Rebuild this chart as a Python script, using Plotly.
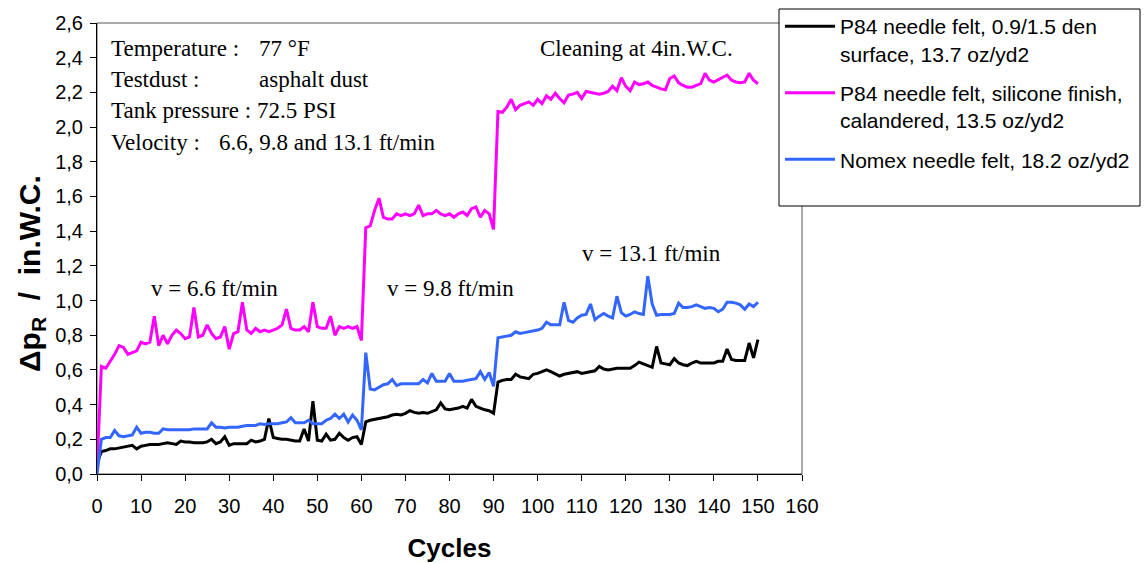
import plotly.graph_objects as go

# ---------------- data ----------------
cycles = list(range(151))

p84_den = [
    0.06, 0.13, 0.135, 0.145, 0.145, 0.15, 0.155, 0.16, 0.165, 0.145,
    0.16, 0.165, 0.17, 0.17, 0.17, 0.175, 0.18, 0.175, 0.17, 0.19,
    0.185, 0.185, 0.18, 0.18, 0.18, 0.185, 0.2, 0.175, 0.185, 0.215,
    0.165, 0.175, 0.175, 0.175, 0.175, 0.195, 0.185, 0.19, 0.2, 0.32,
    0.21, 0.205, 0.2, 0.2, 0.195, 0.19, 0.19, 0.26, 0.19, 0.42,
    0.195, 0.19, 0.23, 0.195, 0.2, 0.235, 0.21, 0.195, 0.21, 0.215,
    0.17, 0.30, 0.31, 0.315, 0.32, 0.325, 0.33, 0.34, 0.345, 0.34,
    0.35, 0.365, 0.355, 0.35, 0.355, 0.35, 0.36, 0.37, 0.41, 0.375,
    0.37, 0.375, 0.38, 0.39, 0.38, 0.43, 0.39, 0.38, 0.37, 0.365,
    0.35, 0.53, 0.54, 0.545, 0.545, 0.575, 0.56, 0.555, 0.55, 0.575,
    0.58, 0.59, 0.6, 0.59, 0.575, 0.565, 0.575, 0.58, 0.585, 0.59,
    0.58, 0.585, 0.59, 0.595, 0.62, 0.605, 0.6, 0.605, 0.61, 0.61,
    0.61, 0.61, 0.625, 0.645, 0.635, 0.625, 0.615, 0.735, 0.64, 0.635,
    0.63, 0.665, 0.64, 0.63, 0.625, 0.64, 0.65, 0.64, 0.64, 0.64,
    0.64, 0.65, 0.65, 0.72, 0.66, 0.655, 0.655, 0.655, 0.755, 0.67,
    0.775,
]

p84_sil = [
    0.03, 0.62, 0.61, 0.65, 0.69, 0.74, 0.73, 0.69, 0.70, 0.71,
    0.76, 0.75, 0.76, 0.91, 0.74, 0.80, 0.75, 0.80, 0.83, 0.81,
    0.78, 0.79, 0.96, 0.79, 0.80, 0.86, 0.81, 0.78, 0.79, 0.85,
    0.72, 0.81, 0.82, 0.99, 0.83, 0.81, 0.84, 0.82, 0.83, 0.82,
    0.83, 0.84, 0.86, 0.95, 0.84, 0.83, 0.83, 0.85, 0.82, 0.99,
    0.85, 0.84, 0.84, 0.91, 0.80, 0.85, 0.84, 0.85, 0.84, 0.85,
    0.77, 1.42, 1.43, 1.52, 1.59, 1.48, 1.47, 1.47, 1.50, 1.49,
    1.50, 1.49, 1.50, 1.55, 1.49, 1.50, 1.50, 1.52, 1.50, 1.49,
    1.50, 1.48, 1.50, 1.51, 1.49, 1.53, 1.54, 1.48, 1.52, 1.50,
    1.41, 2.09, 2.085, 2.115, 2.16, 2.10, 2.125, 2.135, 2.145, 2.125,
    2.16, 2.135, 2.18, 2.16, 2.195, 2.165, 2.14, 2.185, 2.19, 2.20,
    2.165, 2.205, 2.20, 2.195, 2.19, 2.195, 2.205, 2.235, 2.21, 2.285,
    2.235, 2.21, 2.26, 2.245, 2.25, 2.26, 2.24, 2.23, 2.22, 2.215,
    2.28, 2.295, 2.255, 2.24, 2.23, 2.23, 2.24, 2.25, 2.31, 2.27,
    2.26, 2.275, 2.29, 2.30, 2.27, 2.26, 2.255, 2.26, 2.31, 2.27,
    2.25,
]

nomex = [
    0.0, 0.2, 0.21, 0.21, 0.25, 0.22, 0.215, 0.22, 0.225, 0.27,
    0.235, 0.24, 0.24, 0.235, 0.235, 0.26, 0.255, 0.255, 0.255, 0.255,
    0.255, 0.255, 0.26, 0.26, 0.26, 0.26, 0.295, 0.27, 0.27, 0.265,
    0.27, 0.27, 0.27, 0.275, 0.28, 0.28, 0.28, 0.29, 0.285, 0.29,
    0.29, 0.29, 0.295, 0.30, 0.325, 0.295, 0.295, 0.295, 0.31, 0.29,
    0.29, 0.29, 0.31, 0.32, 0.345, 0.32, 0.345, 0.30, 0.34, 0.31,
    0.255, 0.70, 0.49, 0.485, 0.50, 0.515, 0.52, 0.545, 0.51, 0.52,
    0.52, 0.52, 0.52, 0.52, 0.545, 0.525, 0.58, 0.535, 0.535, 0.535,
    0.58, 0.535, 0.535, 0.535, 0.54, 0.545, 0.55, 0.59, 0.545, 0.585,
    0.505, 0.785, 0.79, 0.795, 0.80, 0.82, 0.81, 0.815, 0.82, 0.825,
    0.83, 0.84, 0.875, 0.86, 0.86, 0.86, 0.99, 0.885, 0.875, 0.90,
    0.915, 0.92, 0.98, 0.89, 0.91, 0.925, 0.91, 0.90, 1.025, 0.93,
    0.91, 0.92, 0.935, 0.925, 0.92, 1.14, 0.98, 0.915, 0.92, 0.92,
    0.92, 0.925, 0.985, 0.96, 0.96, 0.965, 0.975, 0.965, 0.955, 0.96,
    0.955, 0.935, 0.95, 0.99, 0.99, 0.985, 0.975, 0.95, 0.98, 0.965,
    0.99,
]

series_names = [
    "P84 needle felt, 0.9/1.5 den<br>surface, 13.7 oz/yd2",
    "P84 needle felt, silicone finish,<br>calandered, 13.5 oz/yd2",
    "Nomex needle felt, 18.2 oz/yd2",
]
series_values = [p84_den, p84_sil, nomex]
series_colors = ["#000000", "#FF00FF", "#3366FF"]

x_ticks = list(range(0, 161, 10))

# ---------------- layout geometry ----------------
W, H = 1144, 563
L, R, T, B = 97, 802, 23, 474  # plot area in pixels


def px(x):
    return (x - L) / (R - L)


def py(y):
    return (B - y) / (B - T)


SANS = "Liberation Sans, Arial, sans-serif"
SERIF = "Liberation Serif, Times New Roman, serif"
NB = "\u00a0"

fig = go.Figure()
for i, (name, vals, col) in enumerate(zip(series_names, series_values, series_colors)):
    fig.add_trace(go.Scatter(
        x=cycles, y=vals, mode="lines", name=name, legendgroup="g%d" % i,
        line=dict(color=col, width=3),
    ))

axis_common = dict(
    showline=True, linecolor="black", linewidth=1,
    ticks="outside", ticklen=6, tickcolor="black", tickwidth=1,
    showgrid=False, zeroline=False, automargin=False,
    tickfont=dict(family=SANS, size=20, color="black"),
)

fig.update_layout(
    width=W, height=H,
    margin=dict(l=L, r=W - R, t=T, b=H - B, pad=0, autoexpand=False),
    paper_bgcolor="white", plot_bgcolor="white",
    separators=",.",
    showlegend=True,
    legend=dict(
        xref="container", yref="container",
        x=780 / W, y=1 - 6 / H, xanchor="left", yanchor="top",
        bgcolor="rgba(0,0,0,0)", borderwidth=0,
        font=dict(family=SANS, size=21, color="black"),
        valign="top", itemwidth=50, tracegroupgap=9,
    ),
    xaxis=dict(
        range=[0, 160], tickvals=x_ticks, ticklabelstandoff=8,
        title=dict(text="Cycles", font=dict(family=SANS, size=26, color="black", weight="bold"), standoff=24),
        **axis_common,
    ),
    yaxis=dict(
        range=[0, 2.6], dtick=0.2, tick0=0, tickformat=".1f", ticklabelstandoff=3,
        **axis_common,
    ),
)

# plot-area frame (grey) and legend box
fig.add_shape(type="rect", xref="paper", yref="paper", x0=0, x1=1, y0=0, y1=1,
              line=dict(color="#555555", width=1), fillcolor="rgba(0,0,0,0)", layer="below")
fig.add_shape(type="rect", xref="paper", yref="paper",
              x0=px(779), x1=px(1140), y0=py(206), y1=py(9),
              line=dict(color="black", width=1), fillcolor="white", layer="above")

# y-axis title
fig.add_annotation(text="Δp<sub>R</sub>" + NB * 2 + "/" + NB * 2 + "in.W.C.", xref="paper", yref="paper",
                   x=px(31), y=py(274), xanchor="center", yanchor="middle",
                   textangle=-90, showarrow=False,
                   font=dict(family=SANS, size=30, color="black", weight="bold"))

notes = [
    ("Temperature :", 109, 49),
    ("77 °F", 257, 49),
    ("Testdust :", 109, 80),
    ("asphalt dust", 257, 80),
    ("Tank pressure : 72.5 PSI", 109, 111),
    ("Velocity :", 109, 142),
    ("6.6, 9.8 and 13.1 ft/min", 217, 142),
    ("Cleaning at 4in.W.C.", 538, 49),
    ("v = 6.6 ft/min", 149, 288),
    ("v = 9.8 ft/min", 385, 288),
    ("v = 13.1 ft/min", 580, 253),
]
for txt, x, y in notes:
    fig.add_annotation(text=txt, xref="paper", yref="paper", x=px(x), y=py(y),
                       xanchor="left", yanchor="middle", showarrow=False,
                       font=dict(family=SERIF, size=23, color="black"))

fig.write_html("out.html",
               config={"displayModeBar": False},
               post_script="document.body.style.margin='0';document.body.style.padding='0';")
